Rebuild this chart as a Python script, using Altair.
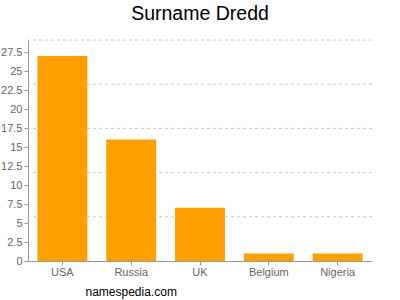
import altair as alt
import pandas as pd

countries = ["USA", "Russia", "UK", "Belgium", "Nigeria"]
counts = [27, 16, 7, 1, 1]
y_ticks = [0, 2.5, 5, 7.5, 10, 12.5, 15, 17.5, 20, 22.5, 25, 27.5]
grid_levels = [5.82, 11.64, 17.46, 23.28, 29.1]
y_max = 29.1

bars_df = pd.DataFrame({"country": countries, "count": counts})
grid_df = pd.DataFrame({"g": grid_levels})

yscale = alt.Scale(domain=[0, y_max], nice=False, zero=True)
yaxis = alt.Axis(
    title=None,
    values=y_ticks,
    format=".3~g",
    grid=False,
    labelFont="Liberation Sans",
    labelFontSize=11,
    labelColor="#666666",
    labelPadding=2,
    domainColor="#999999",
    tickColor="#999999",
    tickSize=4,
)

grid = alt.Chart(grid_df).mark_rule(
    color="#c8c8c8", strokeDash=[3, 3], strokeWidth=1
).encode(y=alt.Y("g:Q", scale=yscale, axis=yaxis))

bars = alt.Chart(bars_df).mark_bar(color="#ffa000").encode(
    x=alt.X(
        "country:N",
        sort=countries,
        scale=alt.Scale(paddingInner=0.275, paddingOuter=0.1375),
        axis=alt.Axis(
            title="namespedia.com",
            titleFont="Liberation Sans",
            titleFontSize=12,
            titleFontWeight="normal",
            titleColor="#000000",
            titleAnchor="start",
            titleX=57,
            titleY=30,
            titleBaseline="middle",
            labelAngle=0,
            labelFont="Liberation Sans",
            labelFontSize=11,
            labelColor="#666666",
            labelPadding=1,
            domainColor="#999999",
            tickColor="#999999",
            tickSize=4,
        ),
    ),
    y=alt.Y("count:Q", scale=yscale, axis=yaxis),
)

chart = alt.layer(grid, bars).properties(
    width=344,
    height=221,
    autosize=alt.AutoSizeParams(type="none"),
    padding={"left": 28, "top": 40, "right": 28, "bottom": 39},
    title=alt.TitleParams(
        "Surname Dredd",
        font="Liberation Sans",
        fontSize=19.5,
        fontWeight="normal",
        color="#000000",
        anchor="middle",
        offset=15,
    ),
).configure_view(stroke=None)

chart.save("out.html", embed_options={"renderer": "svg", "actions": False})
